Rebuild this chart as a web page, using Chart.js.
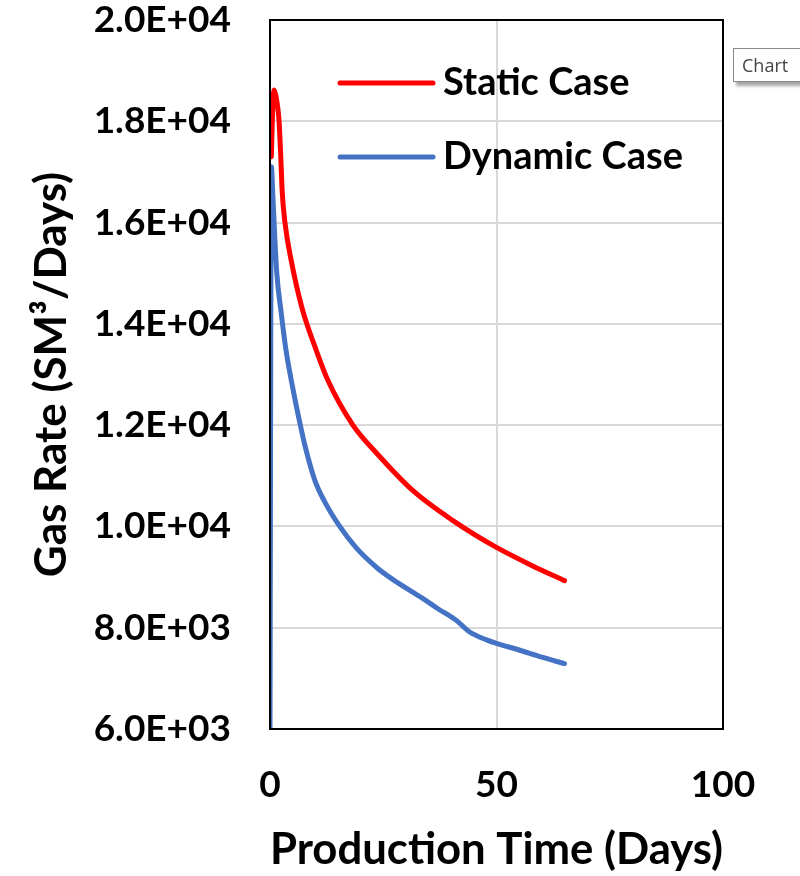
<!DOCTYPE html>
<html>
<head>
<meta charset="utf-8">
<script src="https://cdn.jsdelivr.net/npm/chart.js@4.4.0/dist/chart.umd.min.js"></script>
<style>
  html, body { margin: 0; padding: 0; background: #fff; overflow: hidden; }
  #wrap { position: relative; width: 800px; height: 876px; }
  #tip {
    position: absolute; left: 733px; top: 48px; width: 90px; height: 34px;
    border: 1px solid #8a8a8a; background: #fff;
    box-shadow: 3px 4px 3px rgba(0,0,0,0.35);
    font: 18px "Open Sans", sans-serif; color: #444; line-height: 32px; padding-left: 8px;
    box-sizing: border-box;
  }
</style>
</head>
<body>
<div id="wrap">
  <canvas id="chart" width="800" height="876"></canvas>
  <div id="tip">Chart</div>
</div>
<script>
// 数据
const staticDays = [0.3, 0.6, 0.9, 1.3, 2.0, 2.4, 2.7, 3.3, 4.6, 7.1, 10, 12.8, 18.3, 23.5, 31.5, 40.3, 50, 58, 65];
const staticRate = [17300, 18300, 18620, 18500, 18000, 17250, 16600, 16000, 15290, 14300, 13530, 12880, 12000, 11450, 10710, 10120, 9585, 9220, 8930];

const dynamicDays = [0, 0.3, 0.6, 0.9, 1.5, 2.5, 3.5, 5.1, 6.7, 7.7, 9.9, 12, 15.4, 19, 23.8, 28, 33.7, 37, 41.2, 44, 47.8, 50, 55, 60, 65];
const dynamicRate = [6000, 17100, 16600, 16000, 15000, 14200, 13500, 12700, 12000, 11600, 10910, 10500, 10000, 9580, 9170, 8900, 8580, 8380, 8140, 7920, 7760, 7690, 7560, 7420, 7290];

const xTicks = [0, 50, 100];
const yTicks = [6000, 8000, 10000, 12000, 14000, 16000, 18000, 20000];

const FONT = 'Lato, "Open Sans", sans-serif';

function toPoints(xs, ys) {
    return xs.map((x, i) => ({ x: x, y: ys[i] }));
}

// 2.0E+04 这种格式
function sci(v) {
    const [m, e] = v.toExponential(1).toUpperCase().split('E');
    const sign = e[0];
    const digits = e.slice(1).padStart(2, '0');
    return m + 'E' + sign + digits;
}

// 图内图例 + 外框
const boxAndLegend = {
    id: 'boxAndLegend',
    afterDatasetsDraw(chart) {
        const { ctx, chartArea: a } = chart;
        ctx.save();
        ctx.strokeStyle = '#000';
        ctx.lineWidth = 2;
        ctx.strokeRect(a.left, a.top, a.right - a.left, a.bottom - a.top);

        const items = [
            { ds: chart.data.datasets[0], y: 83 },
            { ds: chart.data.datasets[1], y: 157 }
        ];
        items.forEach(it => {
            ctx.strokeStyle = it.ds.borderColor;
            ctx.lineWidth = 5;
            ctx.lineCap = 'round';
            ctx.beginPath();
            ctx.moveTo(340, it.y);
            ctx.lineTo(433, it.y);
            ctx.stroke();
            ctx.fillStyle = '#000';
            ctx.font = 'bold 38px ' + FONT;
            ctx.textBaseline = 'middle';
            ctx.textAlign = 'left';
            ctx.fillText(it.ds.label, 443, it.y);
        });
        ctx.restore();
    }
};

const ctx = document.getElementById('chart').getContext('2d');
new Chart(ctx, {
    type: 'line',
    data: {
        datasets: [{
            label: 'Static Case',
            data: toPoints(staticDays, staticRate),
            borderColor: '#ff0000',
            borderWidth: 5,
            pointRadius: 0,
            cubicInterpolationMode: 'monotone',
            borderCapStyle: 'round',
            order: 2
        }, {
            label: 'Dynamic Case',
            data: toPoints(dynamicDays, dynamicRate),
            borderColor: '#4472c4',
            borderWidth: 5,
            pointRadius: 0,
            cubicInterpolationMode: 'monotone',
            borderCapStyle: 'round',
            order: 1
        }]
    },
    options: {
        responsive: false,
        animation: false,
        layout: { padding: { top: 20, right: 77, bottom: 0, left: 0 } },
        plugins: {
            legend: { display: false },
            tooltip: { enabled: false }
        },
        scales: {
            x: {
                type: 'linear',
                min: 0,
                max: 100,
                afterBuildTicks: s => { s.ticks = xTicks.map(v => ({ value: v })); },
                afterFit: s => { s.height = 147; s.paddingLeft = 0; s.paddingRight = 0; },
                grid: { color: '#d9d9d9', lineWidth: 2, drawTicks: false },
                border: { display: false },
                ticks: {
                    padding: 34,
                    color: '#000',
                    font: { family: FONT, size: 37, weight: 'bold' },
                    maxRotation: 0
                },
                title: {
                    display: true,
                    text: 'Production Time (Days)',
                    color: '#000',
                    font: { family: FONT, size: 44, weight: 'bold' },
                    padding: { top: 0, bottom: 0 }
                }
            },
            y: {
                min: 6000,
                max: 20000,
                afterBuildTicks: s => { s.ticks = yTicks.map(v => ({ value: v })); },
                afterFit: s => { s.width = 270; s.paddingTop = 0; s.paddingBottom = 0; },
                grid: { color: '#d9d9d9', lineWidth: 2, drawTicks: false },
                border: { display: false },
                ticks: {
                    padding: 39,
                    color: '#000',
                    font: { family: FONT, size: 37, weight: 'bold' },
                    callback: v => sci(v)
                },
                title: {
                    display: true,
                    text: 'Gas Rate (SM³/Days)',
                    color: '#000',
                    font: { family: FONT, size: 44, weight: 'bold' },
                    padding: { top: 25, bottom: 0 }
                }
            }
        }
    },
    plugins: [boxAndLegend]
});
</script>
</body>
</html>
